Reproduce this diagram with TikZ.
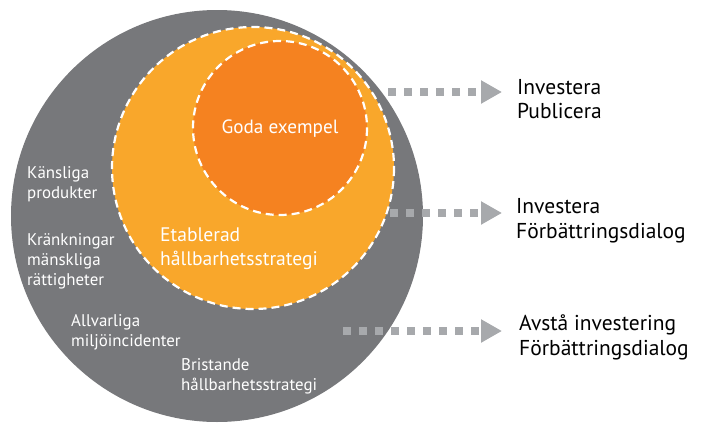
\documentclass[tikz,border=0pt]{standalone}
\usepackage{fontspec}
\setmainfont{PT Sans}
\usetikzlibrary{arrows.meta}
\definecolor{outergray}{HTML}{77787B}
\definecolor{ringyellow}{HTML}{F9A72B}
\definecolor{coreorange}{HTML}{F58220}
\definecolor{arrowgray}{HTML}{A7A9AC}
\tikzset{
  dashring/.style={draw=white, line width=2.2pt, dash pattern=on 8pt off 5pt},
  innerlabel/.style={text=white, inner sep=0pt, align=left, anchor=west, font=\fontsize{16.9}{20}\selectfont},
  biglabel/.style={text=white, inner sep=0pt, align=left, font=\fontsize{19.6}{24}\selectfont},
  rightlabel/.style={text=black, inner sep=0pt, align=left, anchor=west, font=\fontsize{21.5}{24.5}\selectfont},
  dotarrow/.style={arrowgray, line width=8pt, line cap=butt, dash pattern=on 8pt off 8pt,
    -{Triangle[length=21pt,width=22pt]}},
}
\begin{document}
\begin{tikzpicture}[x=1pt,y=-1pt]
\useasboundingbox (0,0) rectangle (701,423);
% circles
\fill[outergray] (217,216) circle (206);
\fill[ringyellow] (253,168) circle (141);
\fill[coreorange] (280,128) circle (87);
\draw[dashring] (253,168) circle (141);
\draw[dashring] (280,128) circle (87);
% labels inside
\node[biglabel, font=\fontsize{19.2}{24}\selectfont] (goda) at (280,129) {Goda exempel};
\node[biglabel, anchor=west] (etab) at (160,249) {Etablerad\\hållbarhetsstrategi};
\node[innerlabel] (kans) at (27,184.5) {Känsliga\\produkter};
\node[innerlabel] (krank) at (27,261.5) {Kränkningar\\mänskliga\\rättigheter};
\node[innerlabel] (allv) at (71,332.5) {Allvarliga\\miljöincidenter};
\node[innerlabel] (brist) at (181,376.5) {Bristande\\hållbarhetsstrategi};
% right labels
\node[rightlabel] (r1) at (517,99) {Investera\\Publicera};
\node[rightlabel] (r2) at (516,221) {Investera\\Förbättringsdialog};
\node[rightlabel] (r3) at (519,337.5) {Avstå investering\\Förbättringsdialog};
% arrows
\coordinate (s1) at (388,92);
\coordinate (e1) at (502,92);
\coordinate (s2) at (390,213);
\coordinate (e2) at (502,213);
\coordinate (s3) at (343,331);
\coordinate (e3) at (502,331);
\draw[dotarrow] (s1) -- (e1);
\draw[dotarrow] (s2) -- (e2);
\draw[dotarrow] (s3) -- (e3);
\end{tikzpicture}
\end{document}
